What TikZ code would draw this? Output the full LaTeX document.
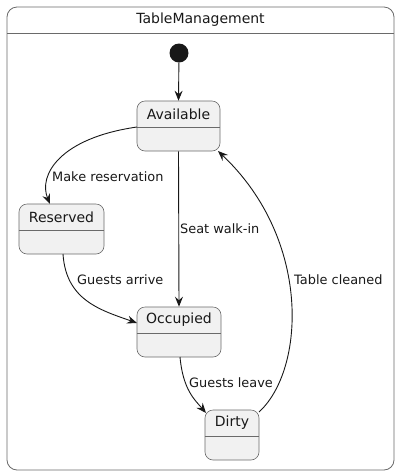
\documentclass[tikz,border=0pt]{standalone}
\usepackage{fontspec}
\setmainfont{DejaVu Sans}
\usetikzlibrary{arrows.meta}
\definecolor{statefill}{HTML}{F1F1F1}
\definecolor{edgecol}{HTML}{181818}
\definecolor{bordercol}{HTML}{6A6A6A}
\tikzset{
  statebox/.style={draw=bordercol, line width=0.6pt, fill=statefill, rounded corners=8pt, minimum height=50pt, inner sep=0pt},
  divline/.style={draw=bordercol, line width=0.6pt},
  sname/.style={font=\fontsize{14}{16}\selectfont, text=edgecol, inner sep=0pt},
  elabel/.style={font=\fontsize{12.9}{15}\selectfont, text=edgecol, inner sep=0pt, anchor=west},
  edge/.style={draw=edgecol, line width=0.9pt, -{Stealth[length=10pt,width=8pt,inset=3.5pt]}},
}
\begin{document}
\begin{tikzpicture}[x=1pt,y=-1pt]
\useasboundingbox (0,0) rectangle (401,475);
% outer composite state
\draw[draw=bordercol, line width=0.8pt, rounded corners=10pt] (7,7) rectangle (394,470);
\draw[draw=bordercol, line width=0.8pt] (7,33) -- (394,33);
\node[sname] (title) at (200.5,20) {TableManagement};
% initial state
\node[circle, fill=edgecol, minimum size=19pt, inner sep=0pt] (init) at (179,53) {};
% states
\node[statebox, minimum width=83pt] (av) at (178.5,126) {};
\draw[divline] (av.west |- 0,127) -- (av.east |- 0,127);
\node[sname] (avt) at (178.5,114) {Available};
\node[statebox, minimum width=85pt] (res) at (61.5,229) {};
\draw[divline] (res.west |- 0,230) -- (res.east |- 0,230);
\node[sname] (rest) at (61.5,217) {Reserved};
\node[statebox, minimum width=84pt] (occ) at (179,332) {};
\draw[divline] (occ.west |- 0,333) -- (occ.east |- 0,333);
\node[sname] (occt) at (179,320) {Occupied};
\node[statebox, minimum width=54pt] (dirty) at (232,435) {};
\draw[divline] (dirty.west |- 0,436) -- (dirty.east |- 0,436);
\node[sname] (dirtyt) at (232,423) {Dirty};
% transitions
\draw[edge] (init) -- (av.north);
\coordinate (avl) at (137,127);
\coordinate (rest2) at (50,204);
\draw[edge] (avl) .. controls (60,138) and (38,175) .. (rest2);
\node[elabel] (l1) at (52,177) {Make reservation};
\draw[edge] (av.south) -- (occ.north);
\node[elabel] (l2) at (180,229) {Seat walk-in};
\coordinate (resb) at (63,254);
\coordinate (occl) at (137,323);
\draw[edge] (resb) .. controls (66,300) and (100,310) .. (occl);
\node[elabel] (l3) at (77,280) {Guests arrive};
\coordinate (occb) at (180,357);
\coordinate (dtop) at (206,413);
\draw[edge] (occb) .. controls (183,390) and (195,400) .. (dtop);
\node[elabel] (l4) at (189,383) {Guests leave};
\coordinate (dright) at (259,412);
\coordinate (avbr) at (218,151);
\draw[edge] (dright) .. controls (305,370) and (312,240) .. (avbr);
\node[elabel] (l5) at (294,280) {Table cleaned};
\end{tikzpicture}
\end{document}
